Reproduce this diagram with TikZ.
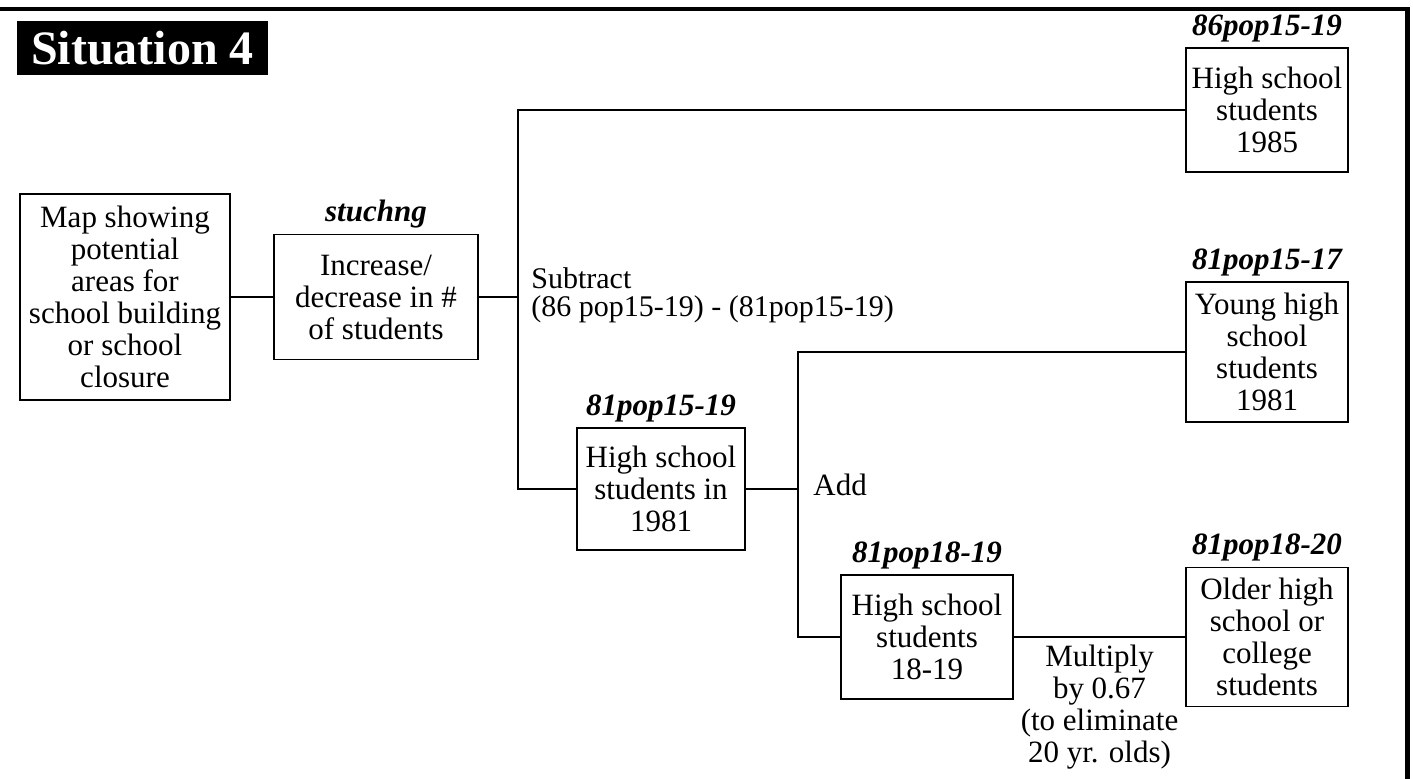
\documentclass[tikz,border=0pt]{standalone}
\usepackage{fontspec}
\setmainfont{Liberation Serif}
\usetikzlibrary{positioning,calc}

\begin{document}
\begin{tikzpicture}[x=0.5pt,y=-0.5pt]
    \tikzset{
      box/.style={draw,line width=0.6pt,align=center,inner sep=2pt,
                  font=\fontsize{15.5}{16}\selectfont},
      tag/.style={anchor=base,font=\fontsize{15.5}{16}\selectfont\bfseries\itshape},
      note/.style={align=center,inner sep=0pt,font=\fontsize{15.5}{16}\selectfont},
      link/.style={line width=0.6pt},
      frame/.style={line width=2.2pt}
    }
    \useasboundingbox (0,0) rectangle (1413,778);
    \draw[frame] (0,9) -| (1407.5,790);
    \node[fill=black,text=white,minimum width=125.5pt,minimum height=27pt,
          font=\fontsize{24}{26}\selectfont\bfseries] (title) at (142.5,48) {Situation 4};

    % boxes
    \node[box,minimum width=105pt,minimum height=103pt] (map) at (125,297)
      {Map showing\\potential\\areas for\\school building\\or school\\closure};
    \node[box,minimum width=102pt,minimum height=62.5pt] (incr) at (376,297)
      {Increase/\\decrease in \#\\of students};
    \node[box,minimum width=81pt,minimum height=62pt] (hs85) at (1267,110)
      {High school\\students\\1985};
    \node[box,minimum width=81pt,minimum height=70pt] (young) at (1267,352)
      {Young high\\school\\students\\1981};
    \node[box,minimum width=84pt,minimum height=61pt] (hs81) at (661,489)
      {High school\\students in\\1981};
    \node[box,minimum width=86pt,minimum height=62pt] (hs1819) at (927,637)
      {High school\\students\\18-19};
    \node[box,minimum width=81pt,minimum height=69.5pt] (older) at (1267,637)
      {Older high\\school or\\college\\students};

    % variable names
    \node[tag] (incrtag) at ([yshift=6pt]incr.north) {stuchng};
    \node[tag] (hs85tag) at ([yshift=6pt]hs85.north) {86pop15-19};
    \node[tag] (youngtag) at ([yshift=6pt]young.north) {81pop15-17};
    \node[tag] (hs81tag) at ([yshift=6pt]hs81.north) {81pop15-19};
    \node[tag] (hs1819tag) at ([yshift=6pt]hs1819.north) {81pop18-19};
    \node[tag] (oldertag) at ([yshift=6pt]older.north) {81pop18-20};

    % connectors
    \coordinate (subfork) at (518,297);
    \coordinate (addfork) at (798,489);
    \draw[link] (map) -- (incr);
    \draw[link] (incr) -- (subfork);
    \draw[link] (hs85.west) -| (subfork) |- (hs81.west);
    \draw[link] (hs81) -- (addfork);
    \draw[link] (young.west) -| (addfork) |- (hs1819.west);
    \draw[link] (hs1819) -- node[note,below=3.5pt]
      {Multiply\\by 0.67\\(to eliminate\\20 yr. olds)} (older);

    \node[note,align=left,anchor=north west,font=\fontsize{15}{14}\selectfont]
      (subnote) at (531,267) {Subtract\\(86 pop15-19) - (81pop15-19)};
    \node[note,anchor=base west] (addnote) at (813,495) {Add};
\end{tikzpicture}
\end{document}
